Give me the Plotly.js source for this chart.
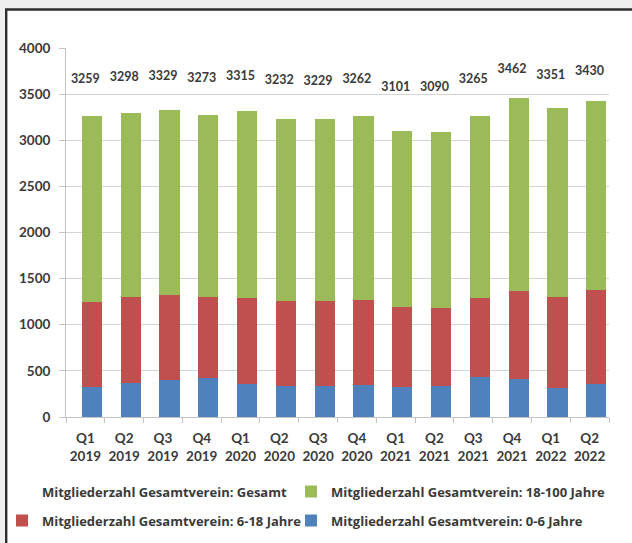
<!DOCTYPE html>
<html>
<head>
<meta charset="utf-8">
<script src="https://cdn.plot.ly/plotly-3.0.1.min.js"></script>
<style>html,body{margin:0;padding:0;background:#efefef;}#chart{width:632px;height:543px;}</style>
</head>
<body>
<div id="chart"></div>
<script>
// ---- data ----
var categories = ["Q1 2019","Q2 2019","Q3 2019","Q4 2019","Q1 2020","Q2 2020","Q3 2020","Q4 2020","Q1 2021","Q2 2021","Q3 2021","Q4 2021","Q1 2022","Q2 2022"];
var tickLabels = ["Q1<br>2019","Q2<br>2019","Q3<br>2019","Q4<br>2019","Q1<br>2020","Q2<br>2020","Q3<br>2020","Q4<br>2020","Q1<br>2021","Q2<br>2021","Q3<br>2021","Q4<br>2021","Q1<br>2022","Q2<br>2022"];
var gesamt    = [3259, 3298, 3329, 3273, 3315, 3232, 3229, 3262, 3101, 3090, 3265, 3462, 3351, 3430];
var age18_100 = [2009, 2001, 2003, 1969, 2025, 1979, 1976, 1992, 1913, 1909, 1975, 2092, 2047, 2050];
var age6_18   = [921, 924, 927, 877, 935, 916, 913, 918, 862, 848, 855, 960, 986, 1025];
var age0_6    = [329, 373, 399, 427, 355, 337, 340, 352, 326, 333, 435, 410, 318, 355];
var names = ["Mitgliederzahl Gesamtverein: Gesamt", "Mitgliederzahl Gesamtverein: 18-100 Jahre", "Mitgliederzahl Gesamtverein: 6-18 Jahre", "Mitgliederzahl Gesamtverein: 0-6 Jahre"];

var FONT = "Lato, 'Open Sans', sans-serif";
var LFONT = "'Open Sans', Lato, sans-serif";
var TXT = "#3a3a3a";

function barTrace(vals, name, color, legend) {
  return {
    type: "bar", x: categories, y: vals, name: name,
    marker: {color: color, line: {width: 0}},
    width: 0.52, offset: -0.09,
    legend: legend, hoverinfo: "y+name"
  };
}

var traces = [
  barTrace(age0_6, names[3], "#4F81BD", "legend4"),
  barTrace(age6_18, names[2], "#C0504D", "legend3"),
  barTrace(age18_100, names[1], "#9BBB59", "legend2"),
  {
    type: "scatter", mode: "markers+text", x: categories, y: gesamt, yaxis: "y2",
    name: names[0], text: gesamt.map(String), textposition: "middle center",
    textfont: {family: FONT, size: 12.5, color: TXT, weight: "bold"},
    marker: {color: "rgba(0,0,0,0)", size: 2},
    legend: "legend", cliponaxis: false, hoverinfo: "y+name"
  }
];

var legendFont = {family: LFONT, size: 13, color: TXT, weight: "bold"};
function leg(xText, yCenter) {
  return {
    orientation: "h", xref: "container", yref: "container",
    x: (xText - 40) / 632, xanchor: "left", y: 1 - yCenter / 543, yanchor: "middle",
    font: legendFont, bgcolor: "rgba(0,0,0,0)"
  };
}

var layout = {
  width: 632, height: 543,
  margin: {l: 66, r: 23, t: 48, b: 126, autoexpand: false},
  paper_bgcolor: "#efefef",
  plot_bgcolor: "rgba(0,0,0,0)",
  barmode: "stack",
  font: {family: FONT, color: TXT},
  showlegend: true,
  xaxis: {
    type: "category", categoryorder: "array", categoryarray: categories,
    tickvals: categories, ticktext: tickLabels, tickangle: 0,
    tickfont: {family: FONT, size: 13.5, color: TXT, weight: "bold"},
    ticks: "outside", ticklen: 5, tickcolor: "#c4c4c4", tickson: "boundaries",
    showline: true, linecolor: "#c4c4c4", linewidth: 1,
    showgrid: false, zeroline: false, ticklabelstandoff: 9,
    range: [-0.5, 13.5]
  },
  yaxis: {
    range: [0, 4000], tickvals: [0,500,1000,1500,2000,2500,3000,3500,4000],
    tickfont: {family: FONT, size: 13.5, color: TXT, weight: "bold"},
    ticks: "outside", ticklen: 6, tickcolor: "#c4c4c4",
    showline: true, linecolor: "#c4c4c4", linewidth: 1,
    showgrid: true, gridcolor: "#d4d4d4", gridwidth: 1,
    zeroline: false, ticklabelstandoff: 6
  },
  yaxis2: {
    overlaying: "y", range: [-3591, 3909], visible: false, showgrid: false, zeroline: false
  },
  legend: leg(42, 491.5),
  legend2: leg(331, 491.5),
  legend3: leg(42, 520.5),
  legend4: leg(331, 520.5),
  shapes: [
    {type: "rect", xref: "paper", yref: "paper", layer: "below",
     x0: (6.2-66)/543, x1: (650-66)/543, y0: (417-570)/369, y1: (417-9.5)/369,
     fillcolor: "#ffffff", line: {color: "#2e2e2e", width: 2.4}}
  ]
};

Plotly.newPlot("chart", traces, layout, {displayModeBar: false, staticPlot: true});
</script>
</body>
</html>
